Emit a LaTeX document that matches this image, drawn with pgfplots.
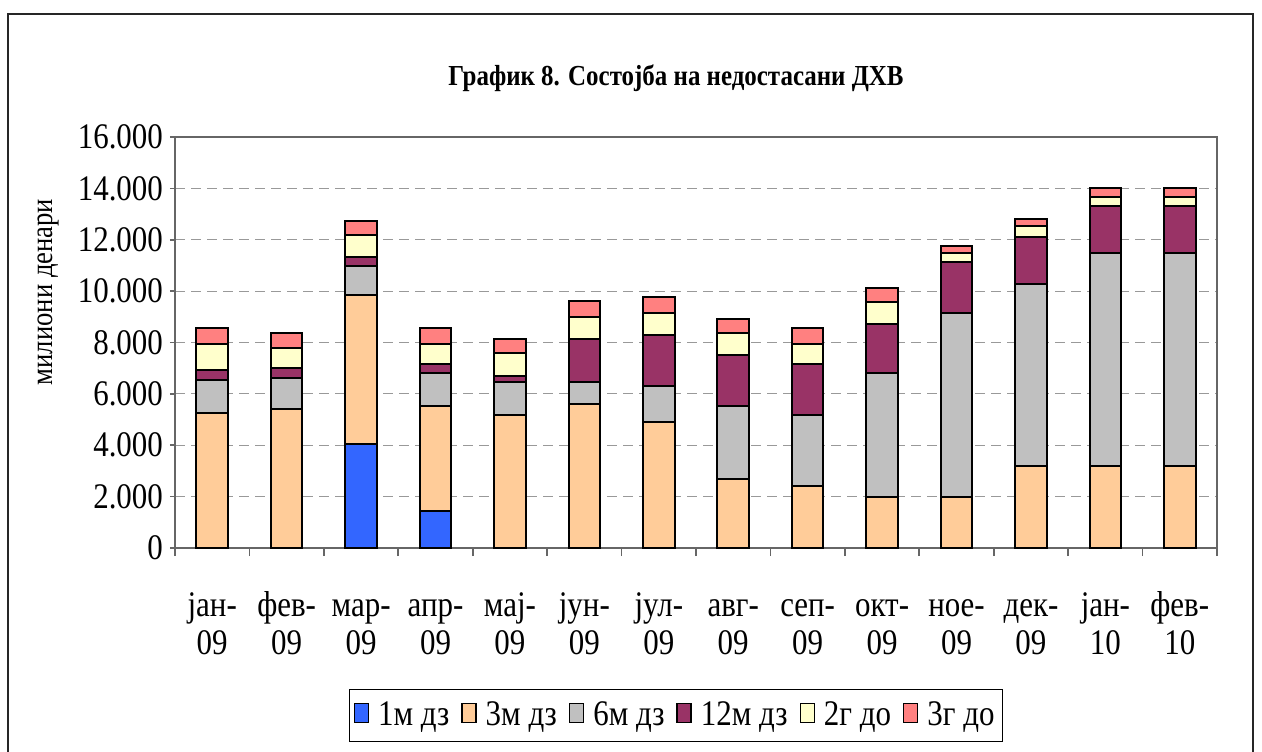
\documentclass[border=0pt]{standalone}
\usepackage{fontspec}
\setmainfont{Liberation Serif}[FakeStretch=0.86]
\usepackage{pgfplots}
\pgfplotsset{compat=1.18}
\definecolor{cA}{HTML}{3366FF}
\definecolor{cB}{HTML}{FFCC99}
\definecolor{cC}{HTML}{C0C0C0}
\definecolor{cD}{HTML}{993366}
\definecolor{cE}{HTML}{FFFFCC}
\definecolor{cF}{HTML}{FF8080}
\newcommand\fl[2]{\rule{0pt}{13pt}#1\\#2}
\begin{document}
\begin{tikzpicture}
\useasboundingbox (0pt,0pt) rectangle (631pt,375.5pt);
\draw[line width=0.8pt, black!85] (4pt,-2pt) -- (4pt,368.5pt) -- (626.5pt,368.5pt) -- (626.5pt,-2pt);
\node[font=\fontsize{14.5}{16}\selectfont\bfseries] at (338pt,336.5pt) {График 8. Состојба на недостасани ДХВ};
\node[rotate=90, font=\fontsize{15.5}{17}\selectfont] at (24pt,229.5pt) {милиони денари};
\begin{axis}[
  at={(87.5pt,101.5pt)}, anchor=south west, scale only axis,
  width=521pt, height=205.5pt,
  ybar stacked, bar width=0.425,
  xmin=-0.5, xmax=13.5, ymin=0, ymax=16000,
  ytick={0,2000,...,16000},
  scaled y ticks=false,
  yticklabel style={/pgf/number format/.cd, 1000 sep={.}, assume math mode=true},
  ticklabel style={font=\fontsize{18}{18.5}\selectfont},
  xtick={0,...,13},
  xticklabels={\fl{јан-}{09},\fl{фев-}{09},\fl{мар-}{09},\fl{апр-}{09},\fl{мај-}{09},\fl{јун-}{09},\fl{јул-}{09},\fl{авг-}{09},\fl{сеп-}{09},\fl{окт-}{09},\fl{ное-}{09},\fl{дек-}{09},\fl{јан-}{10},\fl{фев-}{10}},
  xticklabel style={align=center, anchor=north, yshift=-15pt, font=\fontsize{18}{19}\selectfont},
  x tick style={draw=none},
  minor xtick={-0.5,0.5,...,13.5},
  minor x tick style={draw=gray!80!black, line width=0.8pt},
  minor tick length=4pt,
  major tick length=2.5pt,
  tick align=outside,
  xtick pos=bottom, ytick pos=left,
  y tick style={draw=gray!80!black, line width=0.8pt},
  axis line style={draw=gray!80!black, line width=1pt},
  ymajorgrids,
  major grid style={gray!80, dash pattern=on 5pt off 3pt, line width=0.6pt},
  every axis plot/.append style={draw=black, line width=1pt},
  legend columns=6,
  legend style={at={(0.481,-0.4075)}, anchor=center, draw=black, line width=0.6pt,
    font=\fontsize{18}{20}\selectfont, nodes={font=\fontsize{18}{20}\selectfont},
    inner xsep=2pt, inner ysep=4.2pt,
    /tikz/every odd column/.append style={column sep=2.5pt},
    /tikz/every even column/.append style={column sep=4pt}},
  legend image code/.code={\draw[#1, line width=0.7pt] (0pt,-3.5pt) rectangle (7pt,6pt);},
]
\addplot[fill=cA] coordinates {(0,0) (1,0) (2,4050) (3,1460) (4,0) (5,0) (6,0) (7,0) (8,0) (9,0) (10,0) (11,0) (12,0) (13,0)};
\addplot[fill=cB] coordinates {(0,5270) (1,5430) (2,5810) (3,4070) (4,5180) (5,5610) (6,4910) (7,2670) (8,2410) (9,1980) (10,1980) (11,3190) (12,3190) (13,3190)};
\addplot[fill=cC] coordinates {(0,1270) (1,1200) (2,1120) (3,1280) (4,1300) (5,850) (6,1390) (7,2860) (8,2770) (9,4850) (10,7180) (11,7080) (12,8310) (13,8310)};
\addplot[fill=cD] coordinates {(0,390) (1,370) (2,350) (3,370) (4,230) (5,1660) (6,1990) (7,1980) (8,1980) (9,1900) (10,1970) (11,1820) (12,1800) (13,1800)};
\addplot[fill=cE] coordinates {(0,1020) (1,770) (2,850) (3,770) (4,890) (5,860) (6,870) (7,870) (8,790) (9,860) (10,370) (11,440) (12,370) (13,370)};
\addplot[fill=cF] coordinates {(0,610) (1,610) (2,550) (3,610) (4,520) (5,630) (6,630) (7,530) (8,610) (9,530) (10,250) (11,270) (12,330) (13,330)};
\legend{1м дз,3м дз,6м дз,12м дз,2г до,3г до}
\end{axis}
\end{tikzpicture}
\end{document}
